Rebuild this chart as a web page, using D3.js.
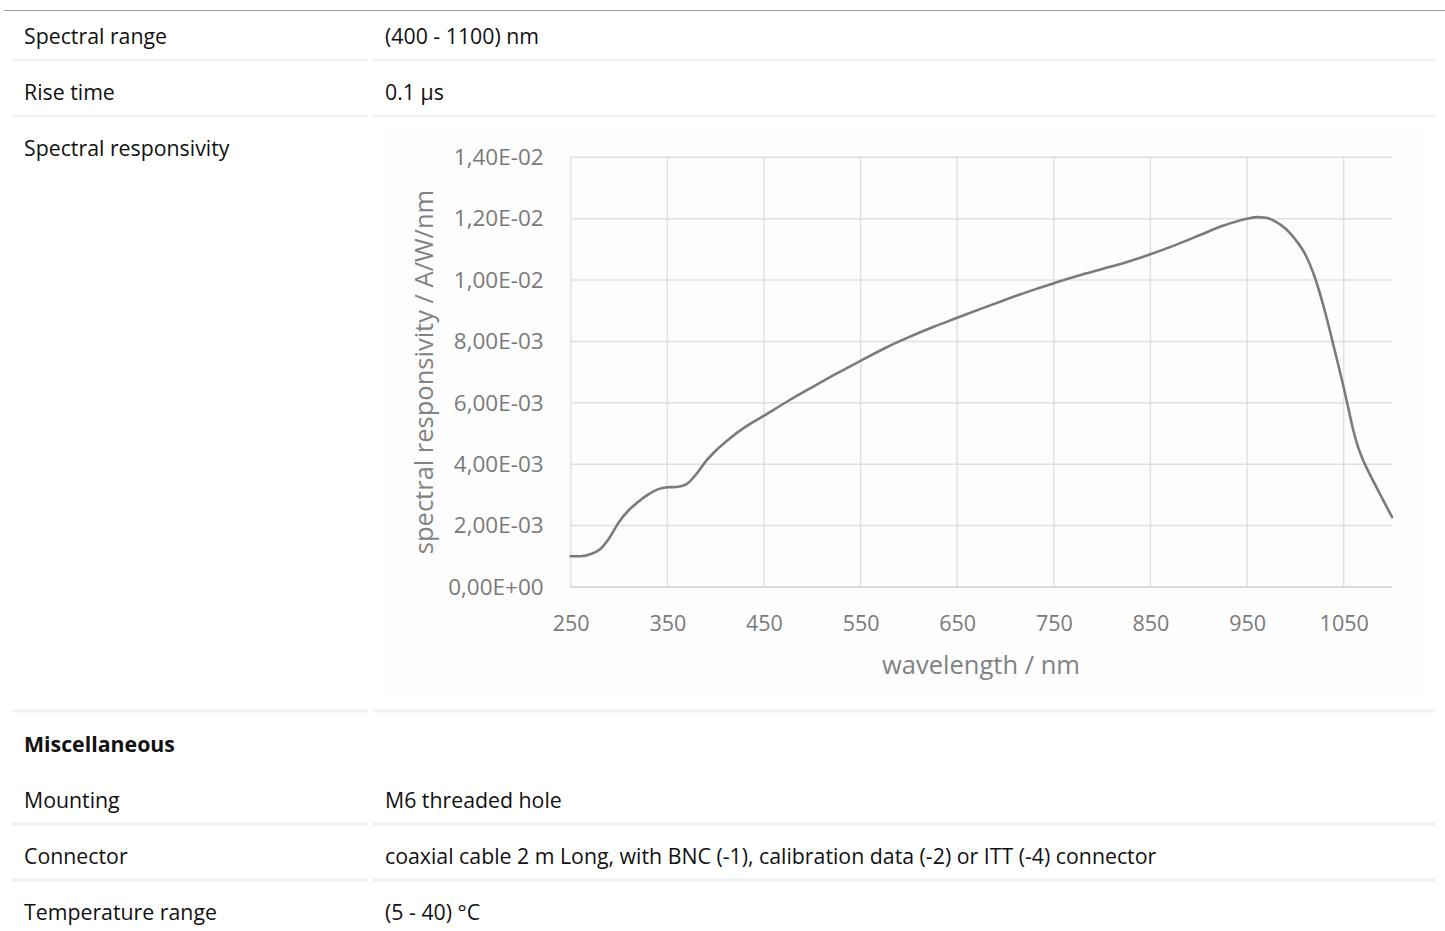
<!DOCTYPE html>
<html>
<head>
<meta charset="utf-8">
<script src="https://cdn.jsdelivr.net/npm/d3@7/dist/d3.min.js"></script>
<style>
  html, body { margin: 0; padding: 0; background: #ffffff; }
  svg { display: block; }
</style>
</head>
<body>
<div id="page"></div>
<script>
// ---------------- data ----------------
const wavelengths = [250, 260, 270, 280, 290, 300, 310, 320, 330, 340, 350, 360, 370, 380, 390, 400, 415, 430, 450, 475,
  500, 525, 550, 575, 600, 625, 650, 675, 700, 725, 750, 775, 800, 825, 850, 875, 900, 925, 950, 960,
  970, 980, 990, 1000, 1010, 1020, 1030, 1040, 1050, 1055, 1060, 1065, 1070, 1080, 1090, 1100];
const responsivity = [1.00e-3, 1.00e-3, 1.07e-3, 1.22e-3, 1.60e-3, 2.12e-3, 2.50e-3, 2.78e-3, 3.01e-3, 3.18e-3,
  3.25e-3, 3.26e-3, 3.35e-3, 3.68e-3, 4.10e-3, 4.44e-3, 4.85e-3, 5.20e-3, 5.58e-3, 6.06e-3,
  6.51e-3, 6.95e-3, 7.37e-3, 7.78e-3, 8.14e-3, 8.47e-3, 8.77e-3, 9.07e-3, 9.36e-3, 9.64e-3,
  9.90e-3, 10.14e-3, 10.36e-3, 10.58e-3, 10.84e-3, 11.13e-3, 11.45e-3, 11.77e-3, 12.00e-3, 12.05e-3,
  12.03e-3, 11.90e-3, 11.67e-3, 11.32e-3, 10.85e-3, 10.10e-3, 9.05e-3, 7.80e-3, 6.50e-3, 5.80e-3,
  5.10e-3, 4.55e-3, 4.14e-3, 3.49e-3, 2.88e-3, 2.28e-3];
const xTickValues = [250, 350, 450, 550, 650, 750, 850, 950, 1050];
const yTickValues = [0, 0.002, 0.004, 0.006, 0.008, 0.010, 0.012, 0.014];
const xAxisTitle = "wavelength / nm";
const yAxisTitle = "spectral responsivity / A/W/nm";

const rowLabels = ["Spectral range", "Rise time", "Spectral responsivity", "Miscellaneous", "Mounting", "Connector", "Temperature range"];
const rowValues = ["(400 - 1100) nm", "0.1 μs", "", "", "M6 threaded hole",
  "coaxial cable 2 m Long, with BNC (-1), calibration data (-2) or ITT (-4) connector", "(5 - 40) °C"];

// ---------------- layout ----------------
const W = 1445, H = 931;
const rowCenters = [37, 93, 149, 745, 801, 857, 913];
const rowBold = [false, false, false, true, false, false, false];
const separatorYs = [60, 116, 711, 824, 880];

const svg = d3.select("#page").append("svg")
  .attr("width", W).attr("height", H)
  .style("font-family", "'Open Sans', sans-serif");

// top rule
svg.append("line").attr("x1", 4).attr("x2", W).attr("y1", 10.5).attr("y2", 10.5)
  .attr("stroke", "#9a9a9a").attr("stroke-width", 1);

// row separators
separatorYs.forEach(y => {
  svg.append("rect").attr("x", 12).attr("y", y - 1.5).attr("width", 356).attr("height", 3).attr("fill", "#eef1f5");
  svg.append("rect").attr("x", 373).attr("y", y - 1.5).attr("width", 1062).attr("height", 3).attr("fill", "#eef1f5");
});

// row texts
rowLabels.forEach((t, i) => {
  svg.append("text").attr("x", 24).attr("y", rowCenters[i]).attr("dy", "0.35em")
    .attr("font-size", 21.3).attr("fill", "#111111")
    .attr("font-weight", rowBold[i] ? 700 : 400)
    .text(t);
  if (rowValues[i]) {
    svg.append("text").attr("x", 385).attr("y", rowCenters[i]).attr("dy", "0.35em")
      .attr("font-size", 21.3).attr("fill", "#111111").text(rowValues[i]);
  }
});

// ---------------- chart ----------------
const chart = svg.append("g");
chart.append("rect").attr("x", 385).attr("y", 133).attr("width", 1038).attr("height", 559).attr("fill", "#fdfdfd");

const x = d3.scaleLinear().domain([250, 1100]).range([570.7, 1392]);
const y = d3.scaleLinear().domain([0, 0.014]).range([587, 157.3]);

function fmtE(v) {
  if (Math.abs(v) < 1e-12) return "0,00E+00";
  const parts = v.toExponential(2).split("e");
  const n = +parts[1];
  return parts[0].replace(".", ",") + "E" + (n < 0 ? "-" : "+") + String(Math.abs(n)).padStart(2, "0");
}

// horizontal gridlines
chart.append("g").selectAll("line").data(yTickValues.filter(v => v > 0)).join("line")
  .attr("x1", x(250)).attr("x2", x(1100))
  .attr("y1", d => y(d)).attr("y2", d => y(d))
  .attr("stroke", "#e0e0e0").attr("stroke-width", 1.5);
// vertical gridlines
chart.append("g").selectAll("line").data(xTickValues).join("line")
  .attr("x1", d => x(d)).attr("x2", d => x(d))
  .attr("y1", y(0.014)).attr("y2", y(0))
  .attr("stroke", "#e0e0e0").attr("stroke-width", 1.5);
// baseline
chart.append("line").attr("x1", x(250)).attr("x2", x(1100)).attr("y1", y(0)).attr("y2", y(0))
  .attr("stroke", "#d0d0d0").attr("stroke-width", 1.5);

// axes (labels only)
const xAxis = chart.append("g").attr("transform", `translate(0,${y(0)})`)
  .call(d3.axisBottom(x).tickValues(xTickValues).tickSize(0).tickFormat(d3.format("d")));
const yAxis = chart.append("g").attr("transform", `translate(${x(250)},0)`)
  .call(d3.axisLeft(y).tickValues(yTickValues).tickSize(0).tickPadding(27).tickFormat(fmtE));
[xAxis, yAxis].forEach(a => {
  a.select(".domain").remove();
  a.selectAll("text").attr("fill", "#7a7a7a").style("font-family", "'Open Sans', sans-serif");
});
yAxis.selectAll("text").attr("font-size", 22.5);
xAxis.selectAll("text").attr("font-size", 21.5).attr("dy", "0.35em").attr("y", 36);

// axis titles
chart.append("text").attr("x", 981).attr("y", 665).attr("dy", "0.35em").attr("text-anchor", "middle")
  .attr("font-size", 25.5).attr("fill", "#828282").text(xAxisTitle);
chart.append("text").attr("transform", "translate(424,372) rotate(-90)").attr("dy", "0.35em").attr("text-anchor", "middle")
  .attr("font-size", 25.5).attr("fill", "#828282").text(yAxisTitle);

// curve
const pts = wavelengths.map((w, i) => [w, responsivity[i]]);
chart.append("path").datum(pts)
  .attr("fill", "none").attr("stroke", "#7b7b7b").attr("stroke-width", 2.6)
  .attr("stroke-linejoin", "round").attr("stroke-linecap", "round")
  .attr("d", d3.line().x(d => x(d[0])).y(d => y(d[1])).curve(d3.curveMonotoneX));
</script>
</body>
</html>
